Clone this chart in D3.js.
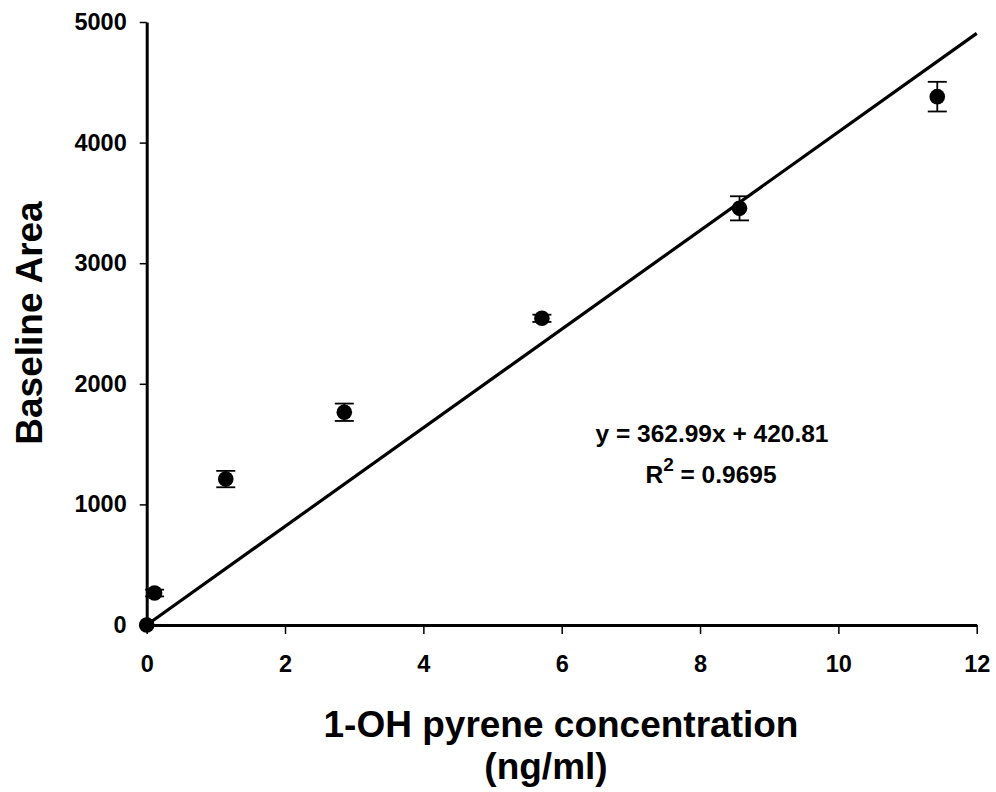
<!DOCTYPE html>
<html>
<head>
<meta charset="utf-8">
<script src="https://cdn.jsdelivr.net/npm/d3@7/dist/d3.min.js"></script>
<style>
  html, body { margin: 0; padding: 0; background: #fff; }
  svg { display: block; }
  text { font-family: "Liberation Sans", Arial, sans-serif; font-weight: bold; fill: #000; }
</style>
</head>
<body>
<script>
// 1-OH pyrene calibration: concentration (ng/ml) vs. baseline area
const concentration = [0, 0.114, 1.143, 2.857, 5.714, 8.571, 11.43];
const baselineArea  = [0, 265, 1210, 1764, 2543, 3455, 4381];
const areaError     = [0, 28, 68, 72, 30, 100, 123];

const xTicks = [0, 2, 4, 6, 8, 10, 12];
const yTicks = [0, 1000, 2000, 3000, 4000, 5000];

const equationLines = ["y = 362.99x + 420.81"];
const rSquared = "0.9695";

const W = 996, H = 792;
const svg = d3.select("body").append("svg").attr("width", W).attr("height", H);

const x = d3.scaleLinear().domain([0, 12]).range([146.7, 976.7]);
const y = d3.scaleLinear().domain([0, 5000]).range([625, 22]);

// Axes
const gx = svg.append("g").attr("transform", `translate(0,${y(0)})`)
  .call(d3.axisBottom(x).tickValues(xTicks).tickSize(9).tickSizeOuter(0).tickPadding(21)
        .tickFormat(d3.format("d")));
const gy = svg.append("g").attr("transform", `translate(${x(0)},0)`)
  .call(d3.axisLeft(y).tickValues(yTicks).tickSize(7).tickSizeOuter(0).tickPadding(13)
        .tickFormat(d3.format("d")));

[gx, gy].forEach(g => {
  g.select(".domain").attr("stroke", "#000").attr("stroke-width", 3);
  g.selectAll(".tick line").attr("stroke", "#000").attr("stroke-width", 1.5);
  g.selectAll(".tick text").attr("font-size", 23.5).attr("font-weight", "bold")
    .attr("font-family", "'Liberation Sans', Arial, sans-serif").attr("fill", "#000");
});
gx.selectAll(".tick text").attr("dy", "0.71em");

// Least-squares trend line through the origin
const sxy = d3.sum(concentration, (c, i) => c * baselineArea[i]);
const sxx = d3.sum(concentration, c => c * c);
const slope0 = sxy / sxx;
const trend = [0, 12].map(c => [c, slope0 * c]);
svg.append("path")
  .attr("d", d3.line().x(d => x(d[0])).y(d => y(d[1]))(trend))
  .attr("fill", "none").attr("stroke", "#000").attr("stroke-width", 3.2);

// Error bars
const pts = concentration.map((c, i) => ({ c, v: baselineArea[i], e: areaError[i] }));
const eb = svg.append("g").attr("stroke", "#000").attr("stroke-width", 1.8);
pts.filter(d => d.e > 0).forEach(d => {
  const cx = x(d.c), y1 = y(d.v + d.e), y2 = y(d.v - d.e);
  eb.append("line").attr("x1", cx).attr("x2", cx).attr("y1", y1).attr("y2", y2);
  eb.append("line").attr("x1", cx - 9.5).attr("x2", cx + 9.5).attr("y1", y1).attr("y2", y1);
  eb.append("line").attr("x1", cx - 9.5).attr("x2", cx + 9.5).attr("y1", y2).attr("y2", y2);
});

// Data markers
svg.append("g").selectAll("circle").data(pts).join("circle")
  .attr("cx", d => x(d.c)).attr("cy", d => y(d.v)).attr("r", 7.8).attr("fill", "#000");

// Regression annotation
svg.append("text").attr("x", 712).attr("y", 442).attr("text-anchor", "middle")
  .attr("font-size", 24.5).text(equationLines[0]);
const r2 = svg.append("text").attr("x", 711).attr("y", 483).attr("text-anchor", "middle")
  .attr("font-size", 24.5);
r2.append("tspan").text("R");
r2.append("tspan").attr("font-size", 19).attr("dy", -12).text("2");
r2.append("tspan").attr("dy", 12).text(" = " + rSquared);

// Axis titles
svg.append("text").attr("x", 561).attr("y", 737).attr("text-anchor", "middle")
  .attr("font-size", 37).text("1-OH pyrene concentration");
svg.append("text").attr("x", 546).attr("y", 779).attr("text-anchor", "middle")
  .attr("font-size", 37).text("(ng/ml)");
svg.append("text").attr("transform", "translate(42,323) rotate(-90)").attr("text-anchor", "middle")
  .attr("font-size", 37).text("Baseline Area");
</script>
</body>
</html>
